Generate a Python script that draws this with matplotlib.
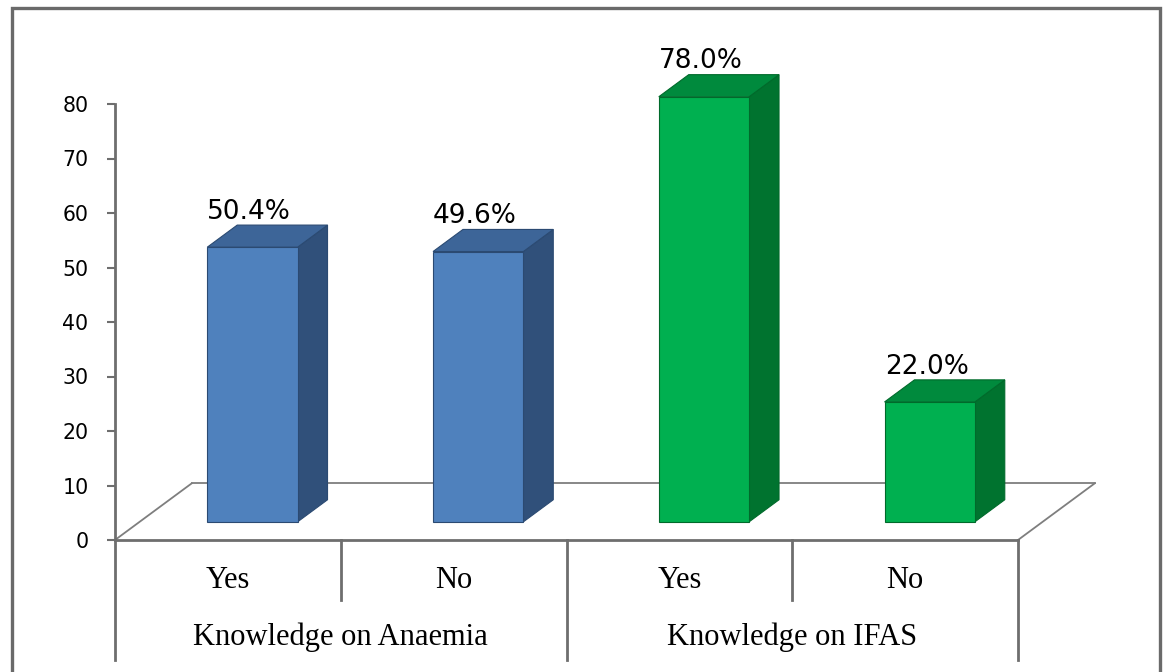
import matplotlib
matplotlib.use("Agg")
import matplotlib.pyplot as plt
from matplotlib.patches import Polygon, Rectangle

# ---- data ----
categories = ["Yes", "No", "Yes", "No"]
groups = ["Knowledge on Anaemia", "Knowledge on IFAS"]
group_of_bar = [0, 0, 1, 1]
values = [50.4, 49.6, 78.0, 22.0]
yticks = [0, 10, 20, 30, 40, 50, 60, 70, 80]

# ---- style ----
W, H = 1164, 672
face_cols = ["#4F81BD", "#00B050"]
side_cols = ["#30507A", "#00732F"]
top_cols = ["#3D6598", "#008A3D"]
edge_cols = ["#2B4A72", "#006A2B"]
line_col = "#6E6E6E"

fig = plt.figure(figsize=(W / 100, H / 100), dpi=100)
ax = fig.add_axes([115 / W, (H - 540) / H, (1018 - 115) / W, (540 - 104) / H])
ax.set_xlim(0, len(categories))
ax.set_ylim(0, 80)
for s in ax.spines.values():
    s.set_visible(False)
ax.set_xticks([])
ax.set_yticks(yticks)
ax.tick_params(axis="y", length=6, width=1.5, color=line_col, pad=13,
               labelsize=14.8, labelcolor="black")
for lbl in ax.get_yticklabels():
    lbl.set_fontfamily("DejaVu Sans")

# floor depth vector (data units)
Dx, Dy = 0.34, 10.4
f0, f1 = 0.32, 0.71
n = len(categories)

# floor
floor_kw = dict(color="#7E7E7E", lw=1.3, clip_on=False, zorder=1)
ax.plot([0, Dx], [0, Dy], **floor_kw)
ax.plot([Dx, n + Dx], [Dy, Dy], **floor_kw)
ax.plot([n, n + Dx], [0, Dy], **floor_kw)
# front edge / x axis
ax.plot([0, n], [0, 0], color=line_col, lw=2, clip_on=False, zorder=1)
# y axis line (continues into the category table)
ax.plot([0, 0], [-22, 80], color=line_col, lw=2, clip_on=False, zorder=1)

# bars
bw = 0.4
for i, v in enumerate(values):
    g = group_of_bar[i]
    c = i + 0.5
    xl = c - bw / 2 + f0 * Dx
    xr = c + bw / 2 + f0 * Dx
    y0 = f0 * Dy
    yt = y0 + v
    ddx = (f1 - f0) * Dx
    ddy = (f1 - f0) * Dy
    front = Polygon([(xl, y0), (xr, y0), (xr, yt), (xl, yt)], closed=True,
                    facecolor=face_cols[g], edgecolor=edge_cols[g], lw=0.8,
                    clip_on=False, zorder=3)
    side = Polygon([(xr, y0), (xr + ddx, y0 + ddy), (xr + ddx, yt + ddy), (xr, yt)],
                   closed=True, facecolor=side_cols[g], edgecolor=edge_cols[g],
                   lw=0.8, clip_on=False, zorder=3)
    top = Polygon([(xl, yt), (xr, yt), (xr + ddx, yt + ddy), (xl + ddx, yt + ddy)],
                  closed=True, facecolor=top_cols[g], edgecolor=edge_cols[g],
                  lw=0.8, clip_on=False, zorder=3)
    for p in (side, top, front):
        ax.add_patch(p)
    ax.text(c + 0.095, v + 9.8, f"{v:.1f}%", ha="center", va="center",
            fontsize=19, family="DejaVu Sans", color="black", zorder=5,
            clip_on=False)

# category table below the axis
tbl_kw = dict(color=line_col, lw=2, clip_on=False, zorder=1)
for k in range(1, n + 1):
    bottom = -22 if k % 2 == 0 else -11
    ax.plot([k, k], [0, bottom], **tbl_kw)
for i, cat in enumerate(categories):
    ax.text(i + 0.5, -7.4, cat, ha="center", va="center", fontsize=22,
            family="Liberation Serif", color="black", clip_on=False)
for gi, gname in enumerate(groups):
    ax.text(2 * gi + 1, -17.9, gname, ha="center", va="center", fontsize=22,
            family="Liberation Serif", color="black", clip_on=False)

# outer frame
fig.add_artist(Rectangle((12 / W, -0.2), (1160 - 12) / W, (H - 8) / H + 0.2,
                         transform=fig.transFigure, fill=False,
                         edgecolor="#6A6A6A", lw=2.4))

fig.savefig("out.png", dpi=100, facecolor="white")
